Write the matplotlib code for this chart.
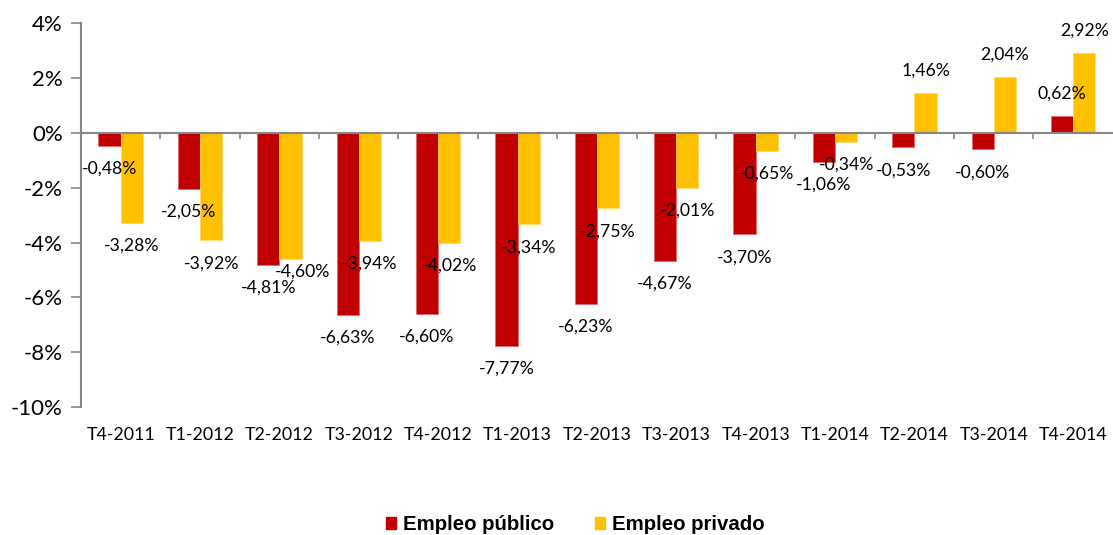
import numpy as np
import matplotlib
matplotlib.use("Agg")
import matplotlib.pyplot as plt
from matplotlib.patches import Patch

# data (variación interanual, %)
periodos = ["T4-2011", "T1-2012", "T2-2012", "T3-2012", "T4-2012", "T1-2013", "T2-2013",
            "T3-2013", "T4-2013", "T1-2014", "T2-2014", "T3-2014", "T4-2014"]
publico = [-0.48, -2.05, -4.81, -6.63, -6.60, -7.77, -6.23, -4.67, -3.70, -1.06, -0.53, -0.60, 0.62]
privado = [-3.28, -3.92, -4.60, -3.94, -4.02, -3.34, -2.75, -2.01, -0.65, -0.34, 1.46, 2.04, 2.92]

rojo = "#C00000"
amarillo = "#FFC000"
gris = "#868686"

plt.rcParams['font.family'] = ['Lato', 'DejaVu Sans']

fig = plt.figure(figsize=(11.13, 5.35), dpi=100)
ax = fig.add_axes([0.0728, 0.239, 0.927, 0.718])

x = np.arange(len(periodos))
w = 0.28
b1 = ax.bar(x - w/2, publico, w, color=rojo, edgecolor="#E06666", linewidth=0.5)
b2 = ax.bar(x + w/2, privado, w, color=amarillo, edgecolor="#FFD966", linewidth=0.5)

def fmt(v):
    return ("%.2f%%" % v).replace(".", ",")

# etiquetas movidas a mano en el original (pixeles)
ajuste = {(1, 2): (12, 10)}

for k, (bars, vals) in enumerate(((b1, publico), (b2, privado))):
    for i, (r, v) in enumerate(zip(bars, vals)):
        off = 22 if v > 0 else -23
        dx, dy = ajuste.get((k, i), (0, 0))
        ax.annotate(fmt(v), (r.get_x() + r.get_width()/2, v), xytext=(dx, off + dy),
                    textcoords="offset pixels", ha="center", va="center", fontsize=12.7)

ax.set_xlim(-0.5, len(periodos) - 0.5)
ax.set_ylim(-10, 4)
ax.set_yticks(np.arange(-10, 5, 2))
ax.set_yticklabels(["%d%%" % t for t in np.arange(-10, 5, 2)], fontsize=16)
ax.tick_params(axis="y", direction="out", length=7, width=1.2, color=gris, pad=6)

# eje horizontal en 0 con marcas entre categorias
for s in ("top", "right"):
    ax.spines[s].set_visible(False)
ax.spines["left"].set_color(gris)
ax.spines["left"].set_linewidth(1.5)
ax.spines["bottom"].set_position(("data", 0))
ax.spines["bottom"].set_color(gris)
ax.spines["bottom"].set_linewidth(1.5)
ax.set_xticks(np.arange(0.5, len(periodos) - 0.5, 1))
ax.set_xticklabels([])
ax.tick_params(axis="x", direction="out", length=4, width=1.2, color=gris)

sec = ax.secondary_xaxis(0)
sec.set_xticks(x)
sec.set_xticklabels(periodos, fontsize=12.8)
sec.tick_params(length=0, pad=14)
sec.spines["bottom"].set_visible(False)

handles = [Patch(color=rojo, label="Empleo público"), Patch(color=amarillo, label="Empleo privado")]
fig.legend(handles=handles, loc="center", bbox_to_anchor=(0.517, 0.019), ncol=2, frameon=False,
           prop={"family": "Liberation Sans", "weight": "bold", "size": 14.7},
           handlelength=0.5, handleheight=0.5, handletextpad=0.35, columnspacing=2.0)

fig.savefig("out.png", dpi=100)
